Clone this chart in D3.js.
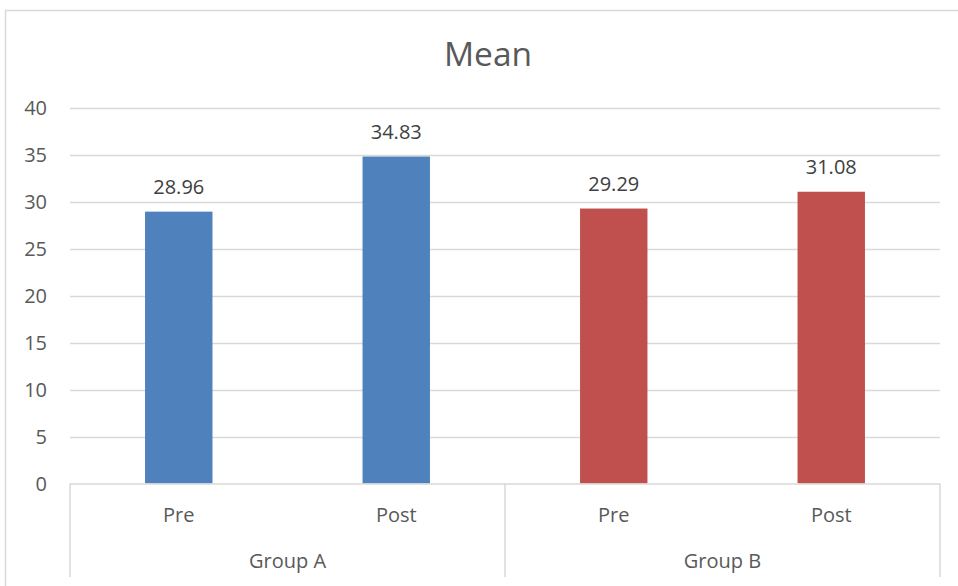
<!DOCTYPE html>
<html><head><meta charset="utf-8">
<script src="https://cdn.jsdelivr.net/npm/d3@7"></script>
<style>body{margin:0;background:#fff;font-family:"Open Sans",sans-serif;}</style>
</head><body>
<svg id="c" width="958" height="586"></svg>
<script>
const groups = ["Group A", "Group B"];
const phases = ["Pre", "Post"];
const values = [28.96, 34.83, 29.29, 31.08];
const colors = ["#4f81bd", "#c0504d"];
const yTicks = [0, 5, 10, 15, 20, 25, 30, 35, 40];
const title = "Mean";

(function () {
const svg = d3.select("#c");
const W = 958, H = 586;
const pLeft = 70, pRight = 940, pTop = 108, base = 483.5, axisBottom = 577;
const textCol = "#595959", gridCol = "#d9d9d9";
const fs = 20;

// outer border
svg.append("rect").attr("x", 5.5).attr("y", 10.5).attr("width", W + 10).attr("height", H + 10)
  .attr("fill", "#fff").attr("stroke", gridCol).attr("stroke-width", 1.5);

const cats = [];
groups.forEach((g, gi) => phases.forEach(p => cats.push({g, gi, p})));
cats.forEach((c, i) => c.v = values[i]);

const x = d3.scaleBand().domain(d3.range(cats.length)).range([pLeft, pRight]).paddingInner(0.69).paddingOuter(0.345);
const y = d3.scaleLinear().domain([0, 40]).range([base, pTop]);

// gridlines
svg.append("g").selectAll("line").data(yTicks.filter(t => t > 0)).join("line")
  .attr("x1", pLeft).attr("x2", pRight).attr("y1", d => Math.round(y(d)) + 0.5).attr("y2", d => Math.round(y(d)) + 0.5)
  .attr("stroke", gridCol).attr("stroke-width", 1.5);

// y labels
svg.append("g").selectAll("text").data(yTicks).join("text")
  .attr("x", 47).attr("y", d => y(d)).attr("dy", "0.35em").attr("text-anchor", "end")
  .attr("fill", textCol).attr("font-size", fs).text(d => d);

// bars
svg.append("g").selectAll("rect").data(cats).join("rect")
  .attr("x", (d, i) => x(i)).attr("width", x.bandwidth())
  .attr("y", d => y(d.v)).attr("height", d => base - y(d.v))
  .attr("fill", d => colors[d.gi]);

// value labels
svg.append("g").selectAll("text").data(cats).join("text")
  .attr("x", (d, i) => x(i) + x.bandwidth() / 2).attr("y", d => y(d.v) - 25)
  .attr("dy", "0.35em")
  .attr("text-anchor", "middle").attr("fill", "#404040").attr("font-size", fs)
  .text(d => d.v.toFixed(2));

// category axis
const ax = svg.append("g").attr("stroke", gridCol).attr("stroke-width", 1.5);
ax.append("line").attr("x1", pLeft).attr("x2", pRight).attr("y1", base + 0.5).attr("y2", base + 0.5);
const slot = (pRight - pLeft) / cats.length;
const dividers = d3.range(groups.length + 1).map(i => pLeft + i * phases.length * slot);
ax.selectAll("line.div").data(dividers).join("line").attr("class", "div")
  .attr("x1", d => d).attr("x2", d => d).attr("y1", base).attr("y2", axisBottom);

svg.append("g").selectAll("text").data(cats).join("text")
  .attr("x", (d, i) => x(i) + x.bandwidth() / 2).attr("y", 515).attr("dy", "0.35em")
  .attr("text-anchor", "middle").attr("fill", textCol).attr("font-size", fs).text(d => d.p);

svg.append("g").selectAll("text").data(groups).join("text")
  .attr("x", (d, i) => (dividers[i] + dividers[i + 1]) / 2).attr("y", 561).attr("dy", "0.35em")
  .attr("text-anchor", "middle").attr("fill", textCol).attr("font-size", fs).text(d => d);

// title
svg.append("text").attr("x", 488).attr("y", 66)
  .attr("text-anchor", "middle").attr("fill", textCol).attr("font-size", 33.5).text(title);
})();
</script>
</body></html>
